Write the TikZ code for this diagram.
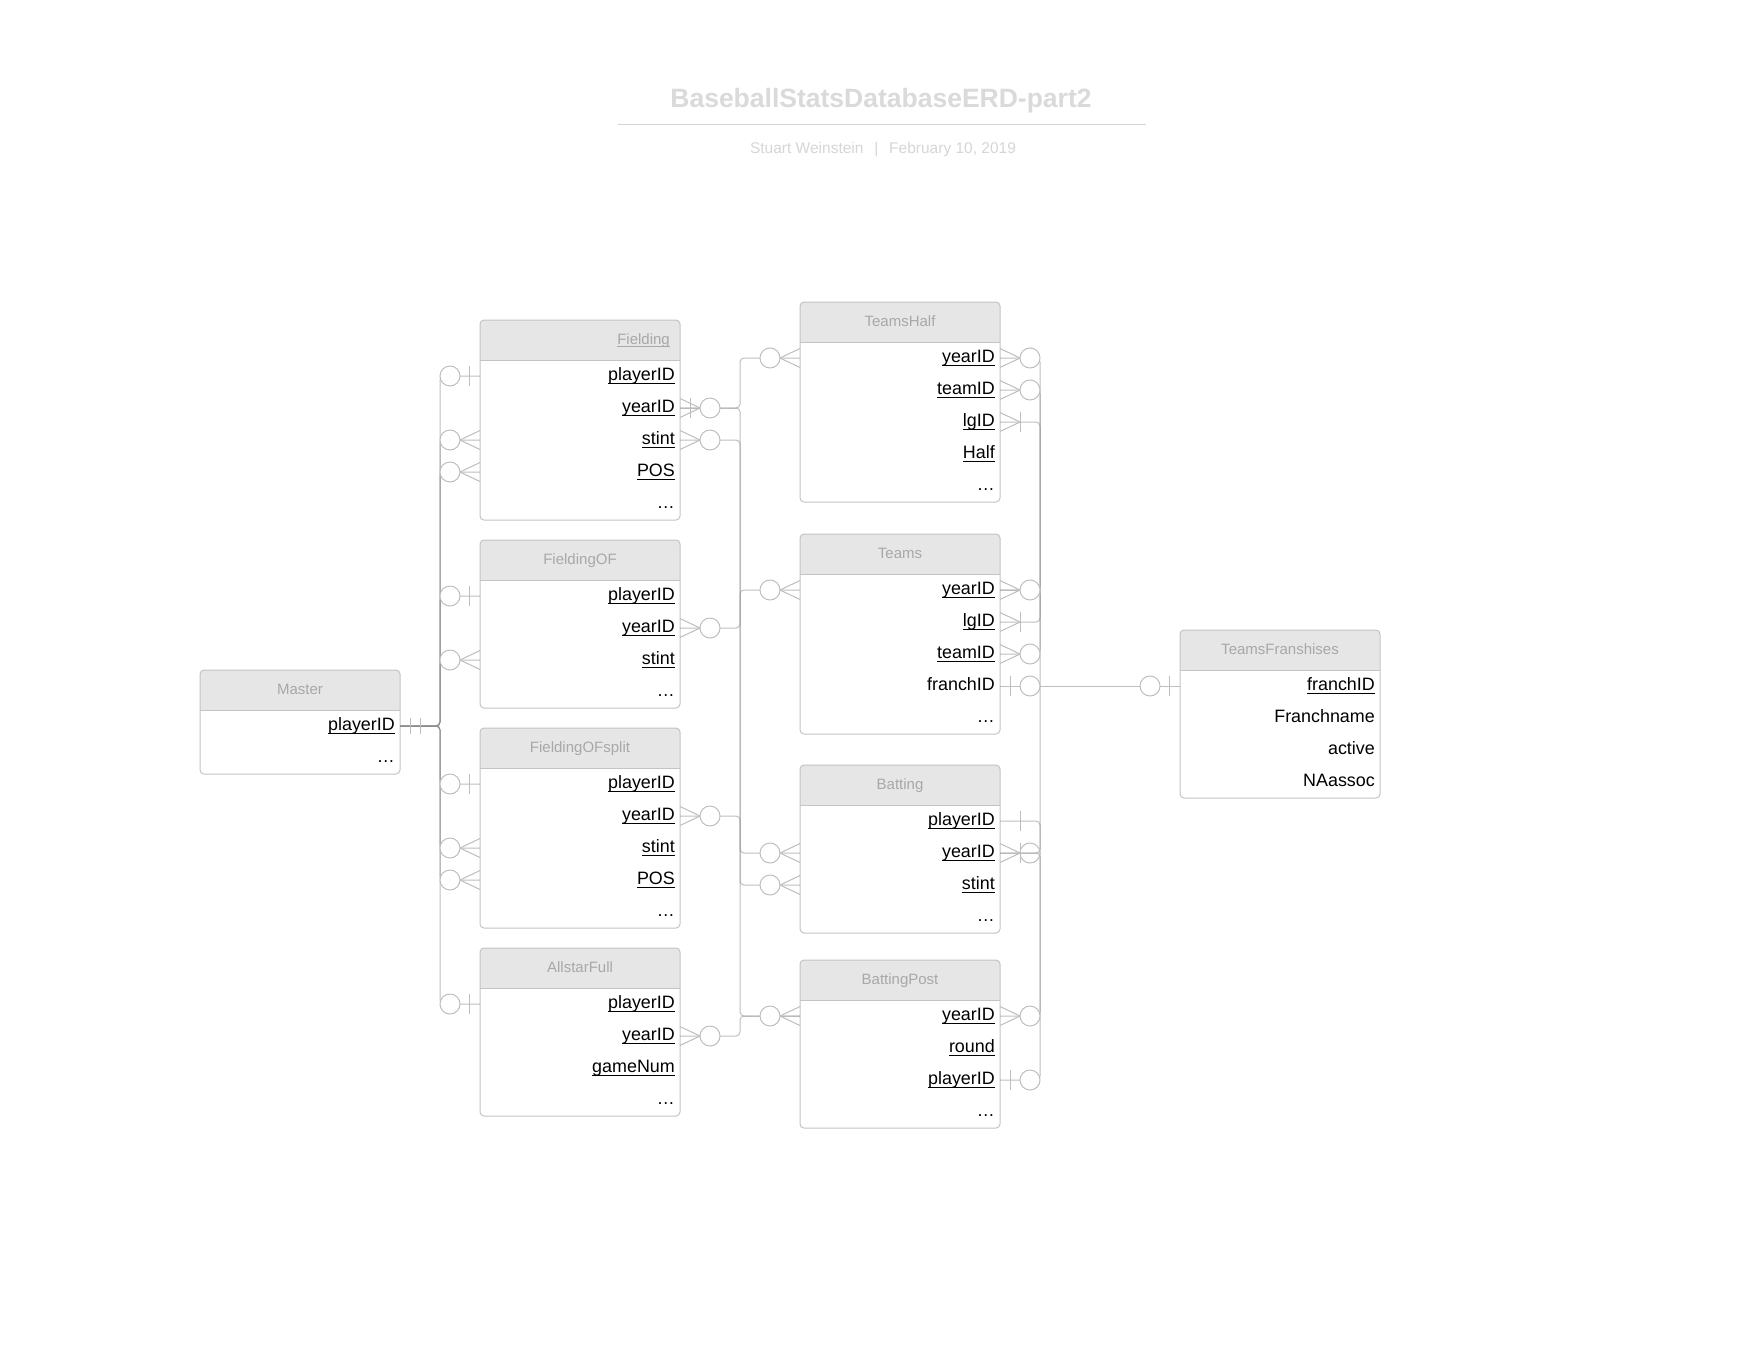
\documentclass[tikz,border=0pt]{standalone}
\usepackage{fontspec}
\setmainfont{Liberation Sans}
\usetikzlibrary{calc}
\definecolor{titlec}{HTML}{DADADA}
\definecolor{subc}{HTML}{D6D6D6}
\definecolor{rulec}{HTML}{D4D4D4}
\definecolor{framec}{HTML}{C4C4C4}
\definecolor{hdrc}{HTML}{E6E6E6}
\definecolor{hdrtxt}{HTML}{A8A8A8}
\definecolor{markc}{HTML}{BEBEBE}
\definecolor{connc}{HTML}{8C8C8C}
\newcommand{\erdul}[1]{\setbox0=\hbox{#1}\rlap{\rule[-3.5pt]{\wd0}{1.2pt}}\box0}
\newcommand{\erdulh}[1]{\setbox0=\hbox{#1}\rlap{\rule[-3pt]{\wd0}{0.9pt}}\box0}
\newcommand{\erdtab}[4]{%
  \fill[hdrc] (#2,#3+40) [rounded corners=4pt] -- (#2,#3) -- (#2+200,#3) [sharp corners] -- (#2+200,#3+40) -- cycle;
  \node[tframe, minimum height={(40+32*#4)*1pt}, anchor=north west] (#1) at (#2,#3) {};
  \draw[framec, line width=1pt] (#2,#3+40) -- (#2+200,#3+40);
}
\newcommand{\erdrow}[4]{%
  \node[rtext] (#1) at (#2+195,#3+4.5) {#4};
  \coordinate (#1L) at (#2,#3);
  \coordinate (#1R) at (#2+200,#3);
}
\begin{document}
\begin{tikzpicture}[x=1pt,y=-1pt,
  tframe/.style={draw=framec, line width=1pt, rounded corners=4pt, minimum width=200pt, inner sep=0pt, outer sep=0pt},
  htext/.style={anchor=base, inner sep=0pt, text=hdrtxt, font=\fontsize{15}{18}\selectfont},
  rtext/.style={anchor=base east, inner sep=0pt, text=black, font=\fontsize{17.9}{20}\selectfont},
  conn/.style={draw=connc, draw opacity=0.55, line width=1pt, rounded corners=4pt},
  mk/.style={draw=markc, line width=1pt},
  pics/zm/.style={code={\draw[mk] (0,-9.5) -- (-20,0) -- (0,9.5); \draw[mk,fill=white] (-30,0) circle[radius=10pt];}},
  pics/zo/.style={code={\draw[mk] (-10.5,-10) -- (-10.5,10); \draw[mk,fill=white] (-30,0) circle[radius=10pt];}},
  pics/one/.style={code={\draw[mk] (-20,-10) -- (-20,10);}},
  pics/om/.style={code={\draw[mk] (0,-9.5) -- (-20,0) -- (0,9.5); \draw[mk] (-20,-10) -- (-20,10);}},
  pics/omz/.style={code={\draw[mk] (0,-9.5) -- (-20,0) -- (0,9.5); \draw[mk] (-20,-10) -- (-20,10); \draw[mk] (-30,0) circle[radius=10pt];}},
  pics/omzb/.style={code={\draw[mk] (0,-9.5) -- (-20,0) -- (0,9.5); \draw[mk] (-10,-10) -- (-10,10); \draw[mk,fill=white] (-30,0) circle[radius=10pt];}},
  pics/oo/.style={code={\draw[mk] (-10.5,-8) -- (-10.5,8) (-20,-8) -- (-20,8);}}
]
\useasboundingbox (0,0) rectangle (1760,1360);
\fill[white] (0,0) rectangle (1760,1360);

% title block
\node[anchor=base, inner sep=0pt, text=titlec, font=\fontsize{26.5}{30}\selectfont\bfseries] (title) at (881,107) {BaseballStatsDatabaseERD-part2};
\draw[rulec, line width=1.7pt] (618,124.6) -- (1146,124.6);
\node[anchor=base, inner sep=0pt, text=subc, font=\fontsize{15.5}{18}\selectfont] (subtitle) at (883,153.5) {Stuart Weinstein\hspace{0.7em}|\hspace{0.7em}February 10, 2019};

% Master
\erdtab{Master}{200}{670}{2}
\node[htext] (Mhead) at (300,694) {Master};
\erdrow{Mpid}{200}{726}{\erdul{playerID}}
\erdrow{Mdots}{200}{758}{…}

% Fielding
\erdtab{Fielding}{480}{320}{5}
\node[htext, anchor=base east] (Fhead) at (670,344) {\erdulh{Fielding}};
\erdrow{Fpid}{480}{376}{\erdul{playerID}}
\erdrow{Fyr}{480}{408}{\erdul{yearID}}
\erdrow{Fst}{480}{440}{\erdul{stint}}
\erdrow{Fpos}{480}{472}{\erdul{POS}}
\erdrow{Fdots}{480}{504}{…}

% FieldingOF
\erdtab{FieldingOF}{480}{540}{4}
\node[htext] (FOhead) at (580,564) {FieldingOF};
\erdrow{FOpid}{480}{596}{\erdul{playerID}}
\erdrow{FOyr}{480}{628}{\erdul{yearID}}
\erdrow{FOst}{480}{660}{\erdul{stint}}
\erdrow{FOdots}{480}{692}{…}

% FieldingOFsplit
\erdtab{FieldingOFsplit}{480}{728}{5}
\node[htext] (FShead) at (580,752) {FieldingOFsplit};
\erdrow{FSpid}{480}{784}{\erdul{playerID}}
\erdrow{FSyr}{480}{816}{\erdul{yearID}}
\erdrow{FSst}{480}{848}{\erdul{stint}}
\erdrow{FSpos}{480}{880}{\erdul{POS}}
\erdrow{FSdots}{480}{912}{…}

% AllstarFull
\erdtab{AllstarFull}{480}{948}{4}
\node[htext] (AFhead) at (580,972) {AllstarFull};
\erdrow{AFpid}{480}{1004}{\erdul{playerID}}
\erdrow{AFyr}{480}{1036}{\erdul{yearID}}
\erdrow{AFgame}{480}{1068}{\erdul{gameNum}}
\erdrow{AFdots}{480}{1100}{…}

% TeamsHalf
\erdtab{TeamsHalf}{800}{302}{5}
\node[htext] (THhead) at (900,326) {TeamsHalf};
\erdrow{THyr}{800}{358}{\erdul{yearID}}
\erdrow{THteam}{800}{390}{\erdul{teamID}}
\erdrow{THlg}{800}{422}{\erdul{lgID}}
\erdrow{THhalf}{800}{454}{\erdul{Half}}
\erdrow{THdots}{800}{486}{…}

% Teams
\erdtab{Teams}{800}{534}{5}
\node[htext] (Thead) at (900,558) {Teams};
\erdrow{Tyr}{800}{590}{\erdul{yearID}}
\erdrow{Tlg}{800}{622}{\erdul{lgID}}
\erdrow{Tteam}{800}{654}{\erdul{teamID}}
\erdrow{Tfr}{800}{686}{franchID}
\erdrow{Tdots}{800}{718}{…}

% Batting
\erdtab{Batting}{800}{765}{4}
\node[htext] (Bhead) at (900,789) {Batting};
\erdrow{Bpid}{800}{821}{\erdul{playerID}}
\erdrow{Byr}{800}{853}{\erdul{yearID}}
\erdrow{Bst}{800}{885}{\erdul{stint}}
\erdrow{Bdots}{800}{917}{…}

% BattingPost
\erdtab{BattingPost}{800}{960}{4}
\node[htext] (BPhead) at (900,984) {BattingPost};
\erdrow{BPyr}{800}{1016}{\erdul{yearID}}
\erdrow{BPround}{800}{1048}{\erdul{round}}
\erdrow{BPpid}{800}{1080}{\erdul{playerID}}
\erdrow{BPdots}{800}{1112}{…}

% TeamsFranshises
\erdtab{TeamsFranshises}{1180}{630}{4}
\node[htext] (TFhead) at (1280,654) {TeamsFranshises};
\erdrow{TFfr}{1180}{686}{\erdul{franchID}}
\erdrow{TFname}{1180}{718}{Franchname}
\erdrow{TFactive}{1180}{750}{active}
\erdrow{TFna}{1180}{782}{NAassoc}

% bus columns
\coordinate (lbus) at (440,0);
\coordinate (mbus) at (740,0);
\coordinate (rbus) at (1040,0);

% connectors: Master to player tables
\foreach \c in {FpidL,FstL,FposL,FOpidL,FOstL,FSpidL,FSstL,FSposL,AFpidL}
  \draw[conn] (MpidR) -- (MpidR -| lbus) |- (\c);

% connectors: middle bus
\draw[conn] (FyrR) -- (FyrR -| mbus) |- (THyrL);
\draw[conn] (FyrR) -- (FyrR -| mbus) |- (BPyrL);
\draw[conn] (FstR) -- (FstR -| mbus) |- (BstL);
\draw[conn] (FOyrR) -- (FOyrR -| mbus) |- (TyrL);
\draw[conn] (FSyrR) -- (FSyrR -| mbus) |- (ByrL);
\draw[conn] (AFyrR) -- (AFyrR -| mbus) |- (BPyrL);

% connectors: right bus
\draw[conn] (THyrR) -- (THyrR -| rbus) |- (TyrR);
\draw[conn] (THteamR) -- (THteamR -| rbus) |- (TteamR);
\draw[conn] (THlgR) -- (THlgR -| rbus) |- (TlgR);
\draw[conn] (TyrR) -- (TyrR -| rbus) |- (ByrR);
\draw[conn] (BpidR) -- (BpidR -| rbus) |- (BPpidR);
\draw[conn] (ByrR) -- (ByrR -| rbus) |- (BPyrR);
\draw[conn] (TfrR) -- (TFfrL);

% end marks
\pic[xscale=-1] at (MpidR) {oo};
\foreach \c in {FpidL,FOpidL,FSpidL,AFpidL} \pic at (\c) {zo};
\foreach \c in {FstL,FposL,FOstL,FSstL,FSposL,THyrL,TyrL,ByrL,BstL,BPyrL} \pic at (\c) {zm};
\pic[xscale=-1] at (FyrR) {omzb};
\foreach \c in {FstR,FOyrR,FSyrR,AFyrR,THyrR,THteamR,TyrR,TteamR,BPyrR} \pic[xscale=-1] at (\c) {zm};
\foreach \c in {THlgR,TlgR} \pic[xscale=-1] at (\c) {om};
\pic[xscale=-1] at (TfrR) {zo};
\pic[xscale=-1] at (BpidR) {one};
\pic[xscale=-1] at (ByrR) {omz};
\pic[xscale=-1] at (BPpidR) {zo};
\pic at (TFfrL) {zo};
\end{tikzpicture}
\end{document}
